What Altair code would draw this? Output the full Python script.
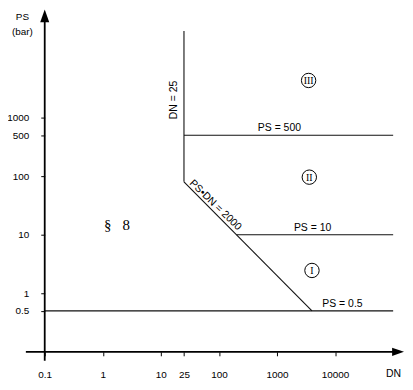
import altair as alt
import pandas as pd

# ---- data ----
X_MIN, X_MAX = 0.1, 160000
Y_MIN, Y_MAX = 0.1, 65000
W, H = 363, 343

seg_name = ["PS = 0.5", "PS = 10", "PS = 500", "DN = 25", "PS•DN = 2000"]
seg_x1 = [0.1, 200, 25, 25, 25]
seg_x2 = [100000, 100000, 100000, 25, 4000]
seg_y1 = [0.5, 10, 500, 80, 80]
seg_y2 = [0.5, 10, 500, 30000, 0.5]

lab_text = ["PS = 500", "PS = 10", "PS = 0.5"]
lab_x = [1100, 4100, 13400]
lab_y = [500, 10, 0.5]

rot_text = ["DN = 25", "PS•DN = 2000"]
rot_x = [17, 87]
rot_y = [2000, 32]
rot_angle = [270, 44]

zone_text = ["III", "II", "I"]
zone_x = [3500, 3600, 4000]
zone_y = [4300, 96, 2.45]

sec_text = ["§\u00a0\u00a0\u00a08"]
sec_x = [1.75]
sec_y = [14.8]

x_ticks = [0.1, 1, 10, 25, 100, 1000, 10000]
y_ticks = [0.5, 1, 10, 100, 500, 1000]

ARROW = "M0,-1L0.7,1L-0.7,1Z"

# ---- scales / axes ----
xs = alt.Scale(type="log", domain=[X_MIN, X_MAX], nice=False, zero=False)
ys = alt.Scale(type="log", domain=[Y_MIN, Y_MAX], nice=False, zero=False)
xax = alt.Axis(values=x_ticks, labelExpr="format(datum.value, '~g')", domain=False, grid=False,
               tickSize=4, tickColor="black", tickWidth=1, labelPadding=14, labelFontSize=10,
               labelColor="black", labelFont="Liberation Sans", labelFlush=False,
               labelOverlap=False,
               title="DN", titleX=351, titleY=22, titleAlign="center", titleBaseline="middle",
               titleFontWeight="normal", titleFontSize=10.5, titleFont="Liberation Sans")
yax = alt.Axis(values=y_ticks, labelExpr="format(datum.value, '~g')", domain=False, grid=False,
               tickSize=4, tickColor="black", tickWidth=1, labelPadding=12, labelFontSize=10,
               labelColor="black", labelFont="Liberation Sans", labelFlush=False,
               labelOverlap=False,
               title=["PS", "(bar)"], titleAngle=0, titleX=-23, titleY=5, titleAlign="center",
               titleBaseline="middle", titleFontWeight="normal", titleFontSize=10,
               titleFont="Liberation Sans", titleLineHeight=15)

seg_df = pd.DataFrame({"name": seg_name, "x1": seg_x1, "x2": seg_x2, "y1": seg_y1, "y2": seg_y2})
segs = alt.Chart(seg_df).mark_rule(color="#111", strokeWidth=1.1).encode(
    x=alt.X("x1:Q", scale=xs, axis=xax), x2="x2:Q",
    y=alt.Y("y1:Q", scale=ys, axis=yax), y2="y2:Q")

lab_df = pd.DataFrame({"t": lab_text, "x": lab_x, "y": lab_y})
labs = alt.Chart(lab_df).mark_text(baseline="bottom", dy=-2, fontSize=10.5, font="Liberation Sans",
                                   color="black").encode(
    x=alt.X("x:Q", scale=xs, axis=xax), y=alt.Y("y:Q", scale=ys, axis=yax), text="t:N")

rot_df = pd.DataFrame({"t": rot_text, "x": rot_x, "y": rot_y, "a": rot_angle})
rots = alt.Chart(rot_df).mark_text(baseline="middle", align="center", fontSize=10.5,
                                   font="Liberation Sans", color="black").encode(
    x=alt.X("x:Q", scale=xs, axis=xax), y=alt.Y("y:Q", scale=ys, axis=yax), text="t:N",
    angle=alt.Angle("a:Q", scale=None))

zone_df = pd.DataFrame({"t": zone_text, "x": zone_x, "y": zone_y})
circ = alt.Chart(zone_df).mark_point(shape="circle", size=210, color="black", strokeWidth=1,
                                     filled=False, opacity=1).encode(
    x=alt.X("x:Q", scale=xs, axis=xax), y=alt.Y("y:Q", scale=ys, axis=yax))
ztxt = alt.Chart(zone_df).mark_text(fontSize=10, font="Liberation Serif", color="black",
                                    baseline="middle", dy=0.5).encode(
    x=alt.X("x:Q", scale=xs, axis=xax), y=alt.Y("y:Q", scale=ys, axis=yax), text="t:N")

sec_df = pd.DataFrame({"t": sec_text, "x": sec_x, "y": sec_y})
sec = alt.Chart(sec_df).mark_text(fontSize=15, font="Liberation Serif", color="black",
                                  baseline="middle").encode(
    x=alt.X("x:Q", scale=xs, axis=xax), y=alt.Y("y:Q", scale=ys, axis=yax), text="t:N")

# axis lines with arrows
orig = pd.DataFrame({"v": [X_MIN]})
yline = alt.Chart(orig).mark_rule(color="black", strokeWidth=1.8).encode(
    x=alt.X("v:Q", scale=xs, axis=xax), y=alt.value(8), y2=alt.value(H + 9))
xline = alt.Chart(orig).mark_rule(color="black", strokeWidth=1.8).encode(
    y=alt.Y("v:Q", scale=ys, axis=yax), x=alt.value(-19), x2=alt.value(W - 8))
yarrow = alt.Chart(orig).mark_point(shape=ARROW, filled=True, size=169, color="black",
                                    opacity=1, strokeWidth=0).encode(
    x=alt.X("v:Q", scale=xs, axis=xax), y=alt.value(4.5))
xarrow = alt.Chart(orig).mark_point(shape=ARROW, filled=True, size=144, color="black",
                                    opacity=1, strokeWidth=0, angle=90).encode(
    y=alt.Y("v:Q", scale=ys, axis=yax), x=alt.value(W - 7))

chart = alt.layer(segs, labs, rots, circ, ztxt, sec, yline, xline, yarrow, xarrow).properties(
    width=W, height=H, autosize=alt.AutoSizeParams(type="none"),
    padding={"left": 37, "top": 2, "right": 0, "bottom": 29}, background="white"
).configure_view(stroke=None)

chart.save("out.html", embed_options={"renderer": "svg", "actions": False})
